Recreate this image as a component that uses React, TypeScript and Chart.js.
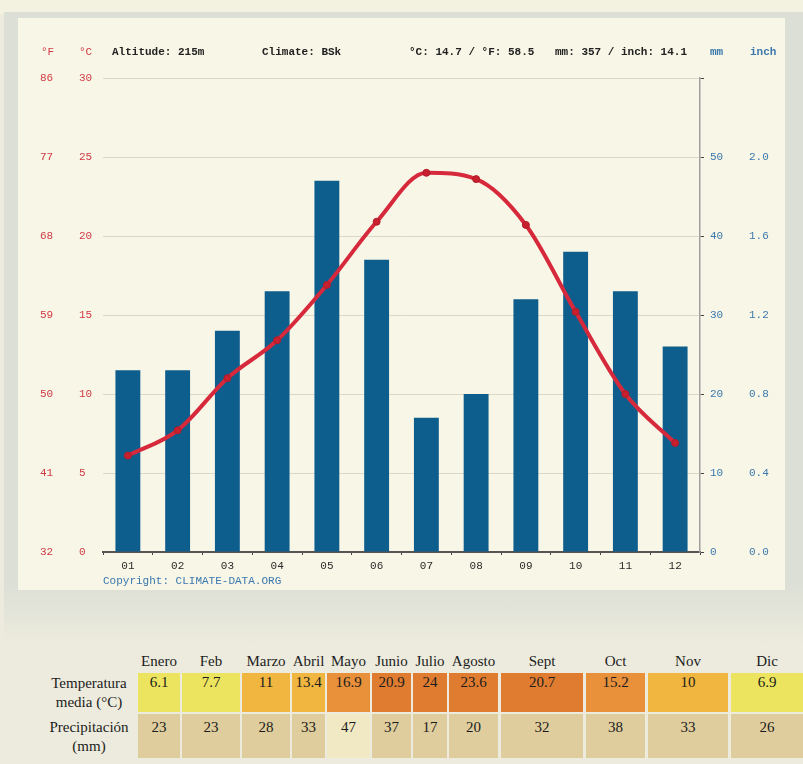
import React, { useEffect, useRef } from 'react';
import { Chart, registerables } from 'chart.js';

Chart.register(...registerables);

// ---- data ----
const monthTicks = ['01', '02', '03', '04', '05', '06', '07', '08', '09', '10', '11', '12'];
const temperatureC = [6.1, 7.7, 11, 13.4, 16.9, 20.9, 24, 23.6, 20.7, 15.2, 10, 6.9];
const precipitationMm = [23, 23, 28, 33, 47, 37, 17, 20, 32, 38, 33, 26];
const tableMonths = ['Enero', 'Feb', 'Marzo', 'Abril', 'Mayo', 'Junio', 'Julio', 'Agosto', 'Sept', 'Oct', 'Nov', 'Dic'];
const altitudeText = 'Altitude: 215m';
const climateText = 'Climate: BSk';

// ---- layout (not data) ----
const colLeft = [138, 182, 242, 292, 327, 372, 413, 449, 501, 586, 648, 731];
const colRight = [180, 240, 290, 325, 370, 411, 447, 498, 583, 645, 728, 803];

const MONO = "'Liberation Mono', 'DejaVu Sans Mono', monospace";
const SERIF = "'Liberation Serif', 'DejaVu Serif', serif";
const RED = '#cf3a45';
const BLUE = '#3a78ae';

function tempColor(t: number): string {
  if (t < 9) return '#ece45e';
  if (t < 14) return '#f0b640';
  if (t < 18) return '#e8903a';
  return '#e07c30';
}
function precipColor(p: number): string {
  if (p >= 40) return '#f1e8c4';
  return '#dfcd9d';
}

export default function App() {
  const canvasRef = useRef<HTMLCanvasElement | null>(null);

  useEffect(() => {
    if (!canvasRef.current) return;
    const tickFont = { family: MONO, size: 11 };
    const chart = new Chart(canvasRef.current, {
      data: {
        labels: monthTicks,
        datasets: [
          {
            type: 'line',
            label: '°C',
            data: temperatureC,
            yAxisID: 'yC',
            borderColor: '#d62a3c',
            borderWidth: 4,
            cubicInterpolationMode: 'monotone',
            pointRadius: 3.5,
            pointBackgroundColor: '#c8202f',
            pointBorderColor: '#b01c2a',
            pointBorderWidth: 1,
            order: 0,
          } as any,
          {
            type: 'bar',
            label: 'mm',
            data: precipitationMm,
            yAxisID: 'yMM',
            backgroundColor: '#0d5d8d',
            barPercentage: 0.5,
            categoryPercentage: 1,
            order: 1,
          } as any,
        ],
      },
      options: {
        responsive: false,
        animation: false,
        layout: { padding: { left: 22, right: 0, top: 60, bottom: 0 } },
        plugins: { legend: { display: false }, tooltip: { enabled: false } },
        scales: {
          x: {
            offset: true,
            grid: { offset: true, drawOnChartArea: false, drawTicks: true, tickLength: 3, color: '#444' },
            border: { display: true, color: '#555', width: 2 },
            ticks: { color: '#2a2a2a', font: tickFont, padding: 4, maxRotation: 0 },
            afterFit: (s: any) => { s.height = 38; },
          },
          yC: {
            position: 'left',
            weight: 0,
            min: 0,
            max: 30,
            ticks: { stepSize: 5, color: RED, font: tickFont, crossAlign: 'far', padding: 0 },
            grid: { color: 'rgba(120,110,90,0.22)', drawTicks: false, lineWidth: 1 },
            border: { display: false },
            afterFit: (s: any) => { s.width = 24; },
          },
          yF: {
            position: 'left',
            weight: 1,
            min: 32,
            max: 86,
            ticks: { stepSize: 9, color: RED, font: tickFont, crossAlign: 'far', padding: 0 },
            grid: { display: false, drawTicks: false },
            border: { display: false },
            afterFit: (s: any) => { s.width = 39; },
          },
          yMM: {
            position: 'right',
            weight: 0,
            min: 0,
            max: 60,
            ticks: {
              stepSize: 10,
              color: BLUE,
              font: tickFont,
              padding: 6,
              callback: (v: any) => (Number(v) >= 60 ? '' : String(v)),
            },
            grid: { drawOnChartArea: false, drawTicks: true, tickLength: 4, color: '#444' },
            border: { display: true, color: '#a0a0a0', width: 1.5 },
            afterFit: (s: any) => { s.width = 49; },
          },
          yIn: {
            position: 'right',
            weight: 1,
            min: 0,
            max: 2.4,
            ticks: {
              stepSize: 0.4,
              color: BLUE,
              font: tickFont,
              padding: 0,
              callback: (v: any) => (Number(v) > 2.3 ? '' : Number(v).toFixed(1)),
            },
            grid: { display: false, drawTicks: false },
            border: { display: false },
            afterFit: (s: any) => { s.width = 36; },
          },
        },
      } as any,
    });
    return () => chart.destroy();
  }, []);

  const meanC = temperatureC.reduce((a, b) => a + b, 0) / temperatureC.length;
  const meanF = meanC * 9 / 5 + 32;
  const totalMm = precipitationMm.reduce((a, b) => a + b, 0);
  const totalIn = totalMm / 25.4;

  const hdr = (left: number, text: string, color: string, bold = true): React.ReactNode => (
    <span
      key={text + left}
      style={{
        position: 'absolute',
        left,
        top: 45,
        fontFamily: MONO,
        fontSize: 11,
        lineHeight: '14px',
        fontWeight: bold ? 700 : 400,
        color,
        whiteSpace: 'pre',
      }}
    >
      {text}
    </span>
  );

  return (
    <div
      style={{
        position: 'absolute',
        left: 0,
        top: 0,
        width: 803,
        height: 764,
        overflow: 'hidden',
        background: '#ecebdd',
      }}
    >
      <div style={{ position: 'absolute', left: 0, top: 0, width: 803, height: 14, background: '#f3f1df' }} />
      <div
        style={{
          position: 'absolute',
          left: 4,
          top: 12,
          width: 799,
          height: 632,
          background: 'linear-gradient(to bottom, #dcdfd6 0%, #dcdfd6 90%, #ecebdd 100%)',
        }}
      />
      <div style={{ position: 'absolute', left: 18, top: 18, width: 767, height: 572, background: '#f8f6e6' }}>
        <canvas ref={canvasRef} width={767} height={572} style={{ display: 'block', width: 767, height: 572 }} />
      </div>

      {hdr(41, '°F', RED, false)}
      {hdr(79, '°C', RED, false)}
      {hdr(112, altitudeText, '#222')}
      {hdr(262, climateText, '#222')}
      {hdr(409, `°C: ${meanC.toFixed(1)} / °F: ${meanF.toFixed(1)}`, '#222')}
      {hdr(555, `mm: ${totalMm} / inch: ${totalIn.toFixed(1)}`, '#222')}
      {hdr(710, 'mm', BLUE)}
      {hdr(750, 'inch', BLUE)}

      <span
        style={{
          position: 'absolute',
          left: 103,
          top: 574,
          fontFamily: MONO,
          fontSize: 11,
          lineHeight: '14px',
          color: BLUE,
          whiteSpace: 'pre',
        }}
      >
        Copyright: CLIMATE-DATA.ORG
      </span>

      {/* table */}
      <div
        style={{
          position: 'absolute',
          left: 39,
          top: 674,
          width: 100,
          textAlign: 'center',
          fontFamily: SERIF,
          fontSize: 15,
          lineHeight: '19px',
          color: '#1c1c1c',
        }}
      >
        Temperatura
        <br />
        media (°C)
      </div>
      <div
        style={{
          position: 'absolute',
          left: 39,
          top: 718,
          width: 100,
          textAlign: 'center',
          fontFamily: SERIF,
          fontSize: 15,
          lineHeight: '19px',
          color: '#1c1c1c',
        }}
      >
        Precipitación
        <br />
        (mm)
      </div>
      {tableMonths.map((m, i) => (
        <div
          key={'h' + m}
          style={{
            position: 'absolute',
            left: colLeft[i],
            top: 652,
            width: colRight[i] - colLeft[i],
            textAlign: 'center',
            fontFamily: SERIF,
            fontSize: 15,
            lineHeight: '19px',
            color: '#1c1c1c',
            whiteSpace: 'nowrap',
          }}
        >
          {m}
        </div>
      ))}
      {temperatureC.map((t, i) => (
        <div
          key={'t' + i}
          style={{
            position: 'absolute',
            left: colLeft[i],
            top: 673,
            width: colRight[i] - colLeft[i],
            height: 39,
            background: tempColor(t),
            textAlign: 'center',
            fontFamily: SERIF,
            fontSize: 15,
            lineHeight: '18px',
            color: '#1c1c1c',
          }}
        >
          {String(t)}
        </div>
      ))}
      {precipitationMm.map((p, i) => (
        <div
          key={'p' + i}
          style={{
            position: 'absolute',
            left: colLeft[i],
            top: 714,
            width: colRight[i] - colLeft[i],
            height: 44,
            background: precipColor(p),
            textAlign: 'center',
            fontFamily: SERIF,
            fontSize: 15,
            lineHeight: '18px',
            paddingTop: 4,
            boxSizing: 'border-box',
            color: '#1c1c1c',
          }}
        >
          {String(p)}
        </div>
      ))}
    </div>
  );
}
